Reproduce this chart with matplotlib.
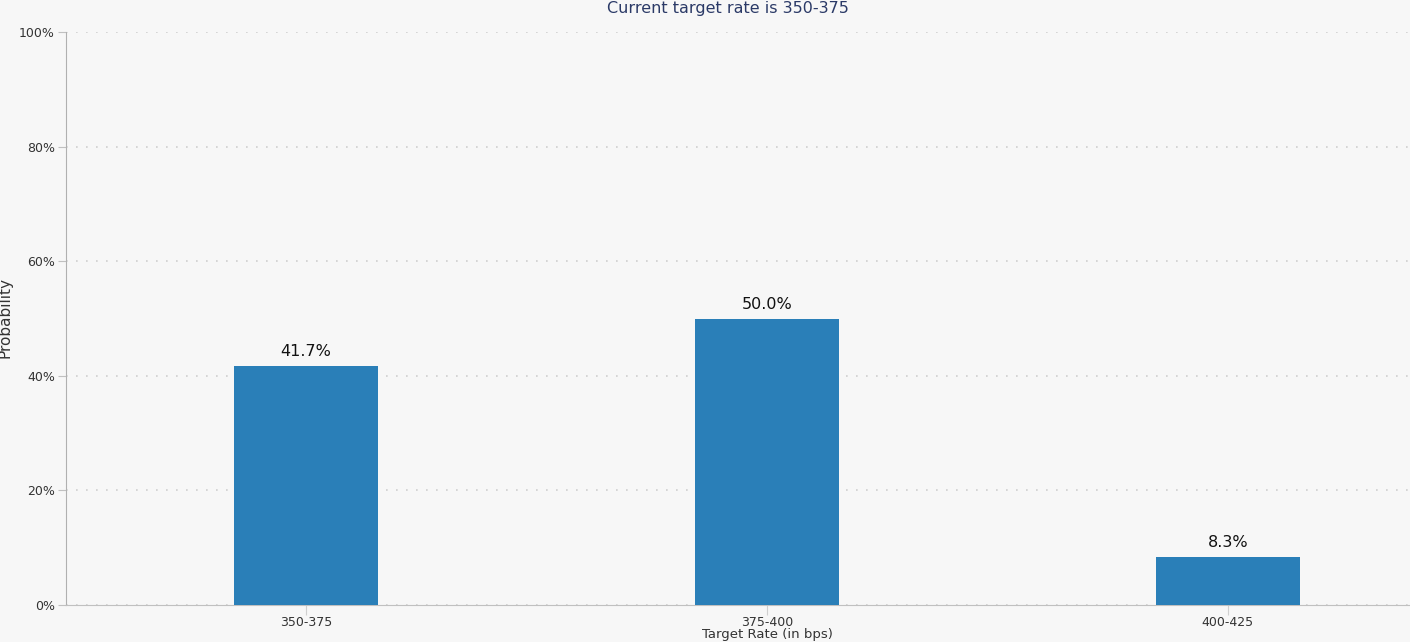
import matplotlib
matplotlib.use("Agg")
import matplotlib.pyplot as plt
from matplotlib.ticker import FuncFormatter

categories = ["350-375", "375-400", "400-425"]
probabilities = [41.7, 50.0, 8.3]
title = "Current target rate is 350-375"
y_ticks = [0, 20, 40, 60, 80, 100]

W, H = 1410, 642
fig = plt.figure(figsize=(W / 100, H / 100), dpi=100)
fig.patch.set_facecolor("#f7f7f7")
ax = fig.add_axes([66 / W, 37 / H, 1344 / W, 573 / H])
ax.set_facecolor("#f7f7f7")

x = list(range(len(categories)))
bars = ax.bar(x, probabilities, width=0.312, color="#2a7fb8", zorder=3)
for xi, v in zip(x, probabilities):
    ax.annotate(f"{v:.1f}%", (xi, v), xytext=(0, 5), textcoords="offset points",
                ha="center", va="bottom", fontsize=11.5, color="#111111")

ax.set_xlim(-0.5206, 2.395)
ax.set_ylim(0, 100)
ax.set_yticks(y_ticks)
ax.yaxis.set_major_formatter(FuncFormatter(lambda v, p: f"{v:.0f}%"))
ax.set_xticks(x)
ax.set_xticklabels(categories)
ax.grid(axis="y", linestyle=(0, (1, 5)), color="#cfcfcf", linewidth=1.2, zorder=0)
ax.grid(axis="x", visible=False)

for s in ["top", "right"]:
    ax.spines[s].set_visible(False)
ax.spines["left"].set_color("#b0b0b0")
ax.spines["bottom"].set_color("#c0c0c0")
ax.tick_params(axis="y", length=6, color="#c0c0c0", labelsize=9, labelcolor="#333333", pad=2)
ax.tick_params(axis="x", length=7, color="#d0d0d0", labelsize=9, labelcolor="#333333", pad=1)

fig.text(728 / W, 1 - 9 / H, title, ha="center", va="center", fontsize=11.5, color="#2b3a67")
fig.text(5 / W, 1 - 318 / H, "Probability", rotation=90, ha="center", va="center",
         fontsize=11, color="#333333")
fig.text(767 / W, 1 / H, "Target Rate (in bps)", ha="center", va="bottom",
         fontsize=9.5, color="#333333")

fig.savefig("out.png", dpi=100, facecolor=fig.get_facecolor())
